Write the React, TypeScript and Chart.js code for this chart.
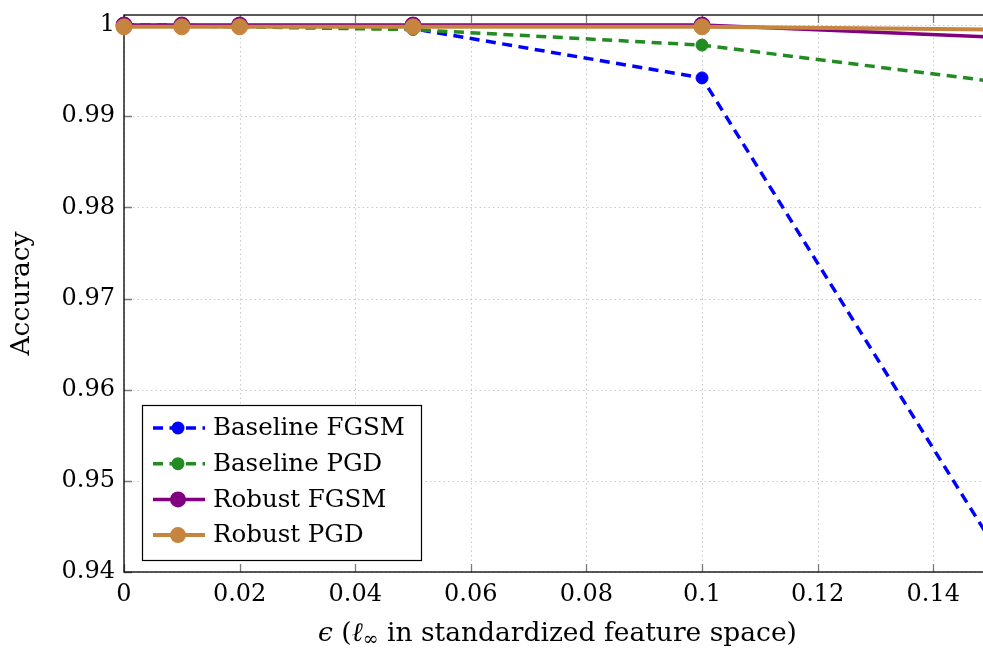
import React, { useEffect, useRef } from "react";
import { Chart, registerables } from "chart.js";

Chart.register(...registerables);

const epsilons = [0, 0.01, 0.02, 0.05, 0.1, 0.15];
const baselineFGSM = [1.0, 0.99995, 0.9999, 0.9996, 0.9942, 0.9434];
const baselinePGD = [0.99995, 0.9999, 0.9998, 0.9995, 0.9978, 0.99385];
const robustFGSM = [1.0, 1.0, 1.0, 1.0, 1.0, 0.99868];
const robustPGD = [0.9998, 0.9998, 0.9998, 0.9998, 0.9998, 0.99952];
const seriesNames = ["Baseline FGSM", "Baseline PGD", "Robust FGSM", "Robust PGD"];
const xTicks = [0, 0.02, 0.04, 0.06, 0.08, 0.1, 0.12, 0.14];
const yTicks = [0.94, 0.95, 0.96, 0.97, 0.98, 0.99, 1];

const FONT = "'DejaVu Serif', serif";
const COLORS = ["#0000ff", "#228b22", "#800080", "#c6853f"];
const DASHED = [true, true, false, false];
const RADII = [6, 6, 8, 8];
const WIDTHS = [3.5, 3.5, 3.5, 4];
const DASH = [10, 6.5];

const fmt = (v: number) => String(Number(v.toFixed(3)));

const decor = {
  id: "decor",
  beforeDatasetsDraw(chart: any) {
    const { ctx, chartArea: a, scales } = chart;
    const x = scales.x;
    const y = scales.y;
    ctx.save();
    ctx.lineWidth = 1;
    ctx.strokeStyle = "#c8c8c8";
    ctx.setLineDash([1.5, 3]);
    for (const v of xTicks) {
      const px = Math.round(x.getPixelForValue(v)) + 0.5;
      ctx.beginPath();
      ctx.moveTo(px, a.top);
      ctx.lineTo(px, a.bottom);
      ctx.stroke();
    }
    for (const v of yTicks) {
      const py = Math.round(y.getPixelForValue(v)) + 0.5;
      ctx.beginPath();
      ctx.moveTo(a.left, py);
      ctx.lineTo(a.right, py);
      ctx.stroke();
    }
    ctx.setLineDash([]);
    ctx.strokeStyle = "#7a7a7a";
    ctx.lineWidth = 1.3;
    const tl = 8;
    for (const v of xTicks) {
      const px = Math.round(x.getPixelForValue(v)) + 0.5;
      ctx.beginPath();
      ctx.moveTo(px, a.bottom);
      ctx.lineTo(px, a.bottom - tl);
      ctx.moveTo(px, a.top);
      ctx.lineTo(px, a.top + tl);
      ctx.stroke();
    }
    for (const v of yTicks) {
      const py = Math.round(y.getPixelForValue(v)) + 0.5;
      ctx.beginPath();
      ctx.moveTo(a.left, py);
      ctx.lineTo(a.left + tl, py);
      ctx.moveTo(a.right, py);
      ctx.lineTo(a.right - tl, py);
      ctx.stroke();
    }
    ctx.strokeStyle = "#000";
    ctx.lineWidth = 1.3;
    ctx.strokeRect(a.left, a.top, a.right - a.left, a.bottom - a.top);
    ctx.restore();
  },
  afterDraw(chart: any) {
    const { ctx, chartArea: a } = chart;
    ctx.save();
    // legend
    const bx = a.left + 18;
    const by = a.bottom - 167;
    const bw = 279;
    const bh = 155;
    ctx.fillStyle = "#fff";
    ctx.fillRect(bx, by, bw, bh);
    ctx.strokeStyle = "#000";
    ctx.lineWidth = 1.2;
    ctx.strokeRect(bx + 0.5, by + 0.5, bw, bh);
    seriesNames.forEach((name, i) => {
      const cy = by + 23 + i * 35.7;
      ctx.strokeStyle = COLORS[i];
      ctx.lineWidth = WIDTHS[i];
      ctx.setLineDash(DASHED[i] ? DASH : []);
      ctx.beginPath();
      ctx.moveTo(bx + 11, cy);
      ctx.lineTo(bx + 63, cy);
      ctx.stroke();
      ctx.setLineDash([]);
      ctx.fillStyle = COLORS[i];
      ctx.beginPath();
      ctx.arc(bx + 36, cy, DASHED[i] ? 6.5 : 8, 0, Math.PI * 2);
      ctx.fill();
      ctx.fillStyle = "#000";
      ctx.font = `24.5px ${FONT}`;
      ctx.textAlign = "left";
      ctx.textBaseline = "middle";
      ctx.fillText(name, bx + 71, cy + 1);
    });
    // x-axis title with math parts
    const parts = [
      { t: "\u03f5", f: `italic 26.5px ${FONT}`, dy: 0 },
      { t: " (", f: `26.5px ${FONT}`, dy: 0 },
      { t: "\u2113", f: `italic 26.5px ${FONT}`, dy: 0 },
      { t: "\u221e", f: `19px ${FONT}`, dy: 6 },
      { t: " in standardized feature space)", f: `26.5px ${FONT}`, dy: 0 },
    ];
    let total = 0;
    const widths = parts.map((p) => {
      ctx.font = p.f;
      const w = ctx.measureText(p.t).width;
      total += w;
      return w;
    });
    let cx = (a.left + a.right) / 2 - total / 2;
    const ty = 634;
    ctx.fillStyle = "#000";
    ctx.textAlign = "left";
    ctx.textBaseline = "middle";
    parts.forEach((p, i) => {
      ctx.font = p.f;
      ctx.fillText(p.t, cx, ty + p.dy);
      cx += widths[i];
    });
    ctx.restore();
  },
};

export default function App() {
  const ref = useRef<HTMLCanvasElement | null>(null);
  useEffect(() => {
    if (!ref.current) return;
    const series = [baselineFGSM, baselinePGD, robustFGSM, robustPGD];
    const orders = [3, 2, 1, 0];
    const chart = new Chart(ref.current, {
      type: "line",
      data: {
        datasets: series.map((vals, i) => ({
          label: seriesNames[i],
          data: epsilons.map((e, j) => ({ x: e, y: vals[j] })),
          borderColor: COLORS[i],
          backgroundColor: COLORS[i],
          borderWidth: WIDTHS[i],
          borderDash: DASHED[i] ? DASH : [],
          pointRadius: RADII[i],
          pointBorderWidth: 1,
          pointBorderColor: COLORS[i],
          pointBackgroundColor: COLORS[i],
          tension: 0,
          fill: false,
          clip: false,
          order: orders[i],
        })),
      },
      options: {
        animation: false,
        responsive: false,
        devicePixelRatio: 1,
        layout: { padding: { top: 15, right: 8, left: 0, bottom: 0 } },
        plugins: {
          legend: { display: false },
          tooltip: { enabled: false },
        },
        scales: {
          x: {
            type: "linear",
            min: 0,
            max: 0.15,
            grid: { display: false, drawTicks: false },
            border: { display: false },
            afterBuildTicks: (s: any) => {
              s.ticks = xTicks.map((v) => ({ value: v }));
            },
            afterFit: (s: any) => {
              s.height = 80;
              s.paddingLeft = 0;
              s.paddingRight = 0;
            },
            ticks: {
              padding: 8,
              color: "#000",
              font: { family: FONT, size: 24 },
              maxRotation: 0,
              autoSkip: false,
              callback: (v: any) => fmt(Number(v)),
            },
          },
          y: {
            type: "linear",
            min: 0.94,
            max: 1.0011,
            grid: { display: false, drawTicks: false },
            border: { display: false },
            afterBuildTicks: (s: any) => {
              s.ticks = yTicks.map((v) => ({ value: v }));
            },
            afterFit: (s: any) => {
              s.width = 124;
              s.paddingTop = 0;
              s.paddingBottom = 0;
            },
            title: {
              display: true,
              text: "Accuracy",
              color: "#000",
              font: { family: FONT, size: 26.5 },
              padding: { top: 6, bottom: 0 },
            },
            ticks: {
              padding: 9,
              color: "#000",
              font: { family: FONT, size: 24 },
              autoSkip: false,
              callback: (v: any) => fmt(Number(v)),
            },
          },
        },
      },
      plugins: [decor],
    });
    return () => chart.destroy();
  }, []);
  return (
    <div
      style={{
        position: "fixed",
        left: 0,
        top: 0,
        width: 983,
        height: 652,
        overflow: "hidden",
        background: "#fff",
      }}
    >
      <canvas ref={ref} width={1000} height={652} style={{ display: "block" }} />
    </div>
  );
}
